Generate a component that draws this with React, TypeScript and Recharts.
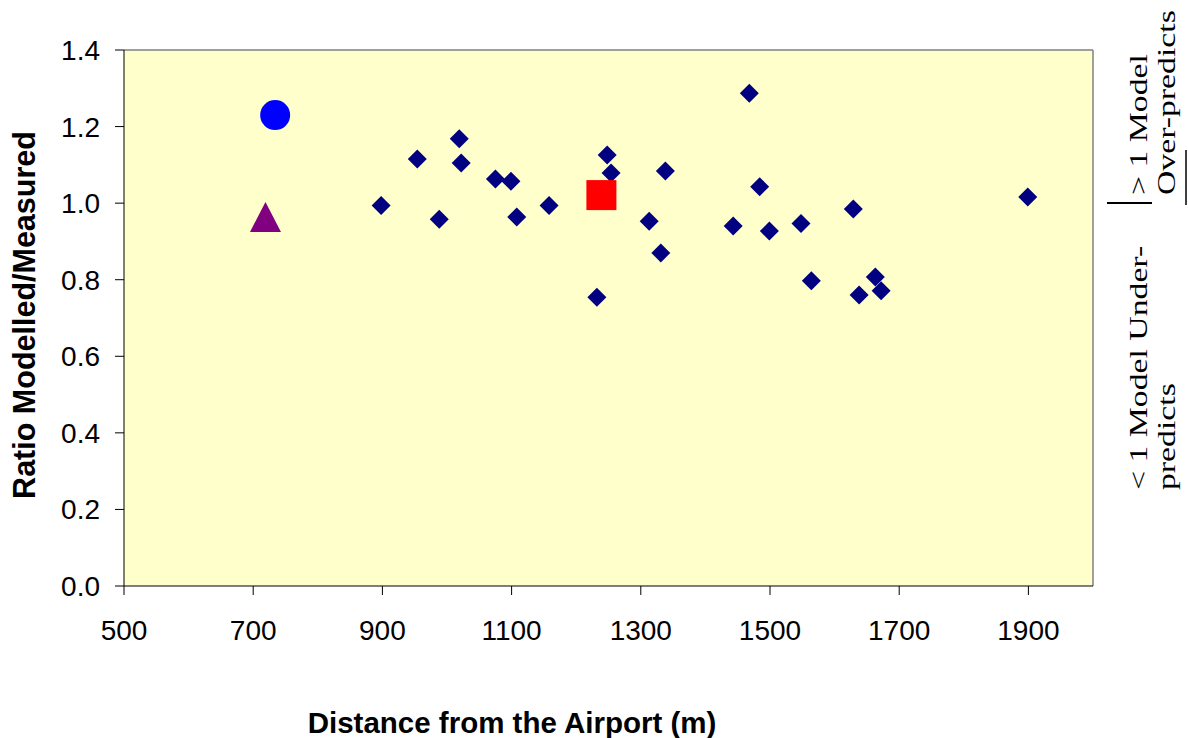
import React from 'react';
import {
  ScatterChart,
  Scatter,
  XAxis,
  YAxis,
  CartesianGrid,
  ReferenceLine,
} from 'recharts';

// Distance from airport (m) and ratio modelled/measured
const siteDistance = [
  898, 954, 988, 1019, 1022, 1075, 1099, 1108, 1158, 1232, 1248, 1254, 1313, 1331,
  1338, 1443, 1468, 1484, 1499, 1548, 1564, 1629, 1638, 1663, 1672, 1899,
];
const siteRatio = [
  0.994, 1.115, 0.958, 1.168, 1.105, 1.063, 1.057, 0.964, 0.994, 0.754, 1.126, 1.079,
  0.953, 0.87, 1.084, 0.94, 1.287, 1.043, 0.927, 0.947, 0.797, 0.985, 0.76, 0.807,
  0.771, 1.016,
];
const circlePoint = [{ x: 734, y: 1.23 }];
const trianglePoint = [{ x: 719, y: 0.964 }];
const squarePoint = [{ x: 1239, y: 1.021 }];

const xTicks = [500, 700, 900, 1100, 1300, 1500, 1700, 1900];
const yTicks = [0, 0.2, 0.4, 0.6, 0.8, 1.0, 1.2, 1.4];

const xTitle = 'Distance from the Airport (m)';
const yTitle = 'Ratio Modelled/Measured';
const overLines = ['> 1 Model', 'Over-predicts'];
const underLines = ['< 1 Model Under-', 'predicts'];

const sites = siteDistance.map((x, i) => ({ x, y: siteRatio[i] }));

const SANS = "'Liberation Sans', Arial, sans-serif";
const SERIF = "'Liberation Serif', 'Times New Roman', serif";

const Diamond = (p: any) => {
  const { cx, cy } = p;
  const r = 9.5;
  return <path d={`M${cx},${cy - r}L${cx + r},${cy}L${cx},${cy + r}L${cx - r},${cy}Z`} fill="#000080" />;
};

const Circle = (p: any) => <circle cx={p.cx} cy={p.cy} r={15} fill="#0000FF" />;

const Square = (p: any) => <rect x={p.cx - 15} y={p.cy - 15} width={30} height={30} fill="#FF0000" />;

const Triangle = (p: any) => {
  const { cx, cy } = p;
  return <path d={`M${cx},${cy - 15}L${cx + 15.5},${cy + 15}L${cx - 15.5},${cy + 15}Z`} fill="#800080" />;
};

export default function App() {
  return (
    <div style={{ position: 'absolute', left: 0, top: 0, background: '#fff' }}>
      <ScatterChart width={1188} height={738} margin={{ top: 50, right: 95, bottom: 0, left: 0 }}>
        <CartesianGrid horizontal={false} vertical={false} fill="#FFFFCC" />
        <XAxis
          type="number"
          dataKey="x"
          domain={[500, 2000]}
          ticks={xTicks}
          allowDataOverflow
          height={152}
          stroke="#000"
          tickSize={9}
          tickMargin={25}
          tick={{ fill: '#000', fontSize: 28, fontFamily: SANS }}
        />
        <YAxis
          type="number"
          dataKey="y"
          domain={[0, 1.4]}
          ticks={yTicks}
          width={124}
          stroke="#000"
          tickSize={9}
          tickMargin={15}
          tickFormatter={(v: number) => v.toFixed(1)}
          tick={{ fill: '#000', fontSize: 28, fontFamily: SANS }}
        />
        <ReferenceLine y={1.4} stroke="#808080" strokeWidth={1.5} />
        <ReferenceLine x={2000} stroke="#808080" strokeWidth={1.5} />
        <Scatter data={sites} shape={Diamond} isAnimationActive={false} />
        <Scatter data={circlePoint} shape={Circle} isAnimationActive={false} />
        <Scatter data={trianglePoint} shape={Triangle} isAnimationActive={false} />
        <Scatter data={squarePoint} shape={Square} isAnimationActive={false} />

        {/* axis titles */}
        <text x={512} y={733} textAnchor="middle" fontFamily={SANS} fontSize={29.5} fontWeight="bold" fill="#000">
          {xTitle}
        </text>
        <text
          transform="translate(35,315) rotate(-90)"
          textAnchor="middle"
          fontFamily={SANS}
          fontSize={30.5}
          fontWeight="bold"
          fill="#000"
        >
          {yTitle}
        </text>

        {/* right side notes */}
        <g fontFamily={SERIF} fontSize={25} fill="#000">
          <text transform="translate(1147,195) rotate(-90) scale(1.35,1)">{overLines[0]}</text>
          <text transform="translate(1175,195) rotate(-90) scale(1.35,1)">{overLines[1]}</text>
          <text transform="translate(1147,490) rotate(-90) scale(1.35,1)">{underLines[0]}</text>
          <text transform="translate(1175,490) rotate(-90) scale(1.35,1)">{underLines[1]}</text>
        </g>
        <line x1={1107} y1={203} x2={1152} y2={203} stroke="#000" strokeWidth={2} />
        <line x1={1186} y1={150} x2={1186} y2={205} stroke="#000" strokeWidth={1.5} />
      </ScatterChart>
    </div>
  );
}
